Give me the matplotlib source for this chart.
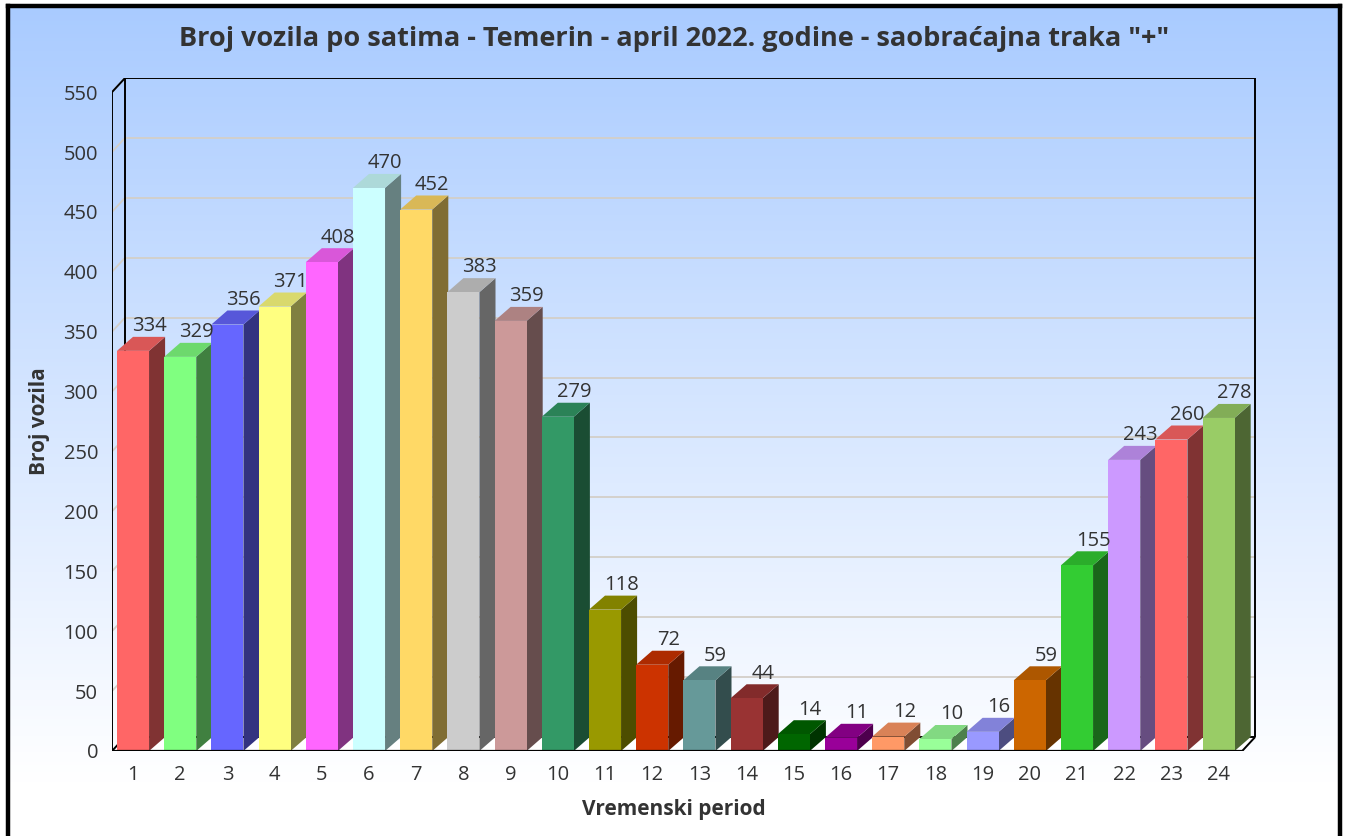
import numpy as np
import matplotlib
matplotlib.use("Agg")
import matplotlib.pyplot as plt
from matplotlib.patches import Polygon
from matplotlib.colors import to_rgb

plt.rcParams['font.family'] = ['Open Sans', 'DejaVu Sans']

# data
hours = list(range(1, 25))
counts = [334, 329, 356, 371, 408, 470, 452, 383, 359, 279, 118, 72,
          59, 44, 14, 11, 12, 10, 16, 59, 155, 243, 260, 278]
colors = ['#FF6666', '#80FF80', '#6666FF', '#FFFF80', '#FF66FF', '#CCFFFF',
          '#FFD966', '#CCCCCC', '#CC9999', '#339966', '#999900', '#CC3300',
          '#669999', '#993333', '#006600', '#990099', '#FF9966', '#99FF99',
          '#9999FF', '#CC6600', '#33CC33', '#CC99FF', '#FF6666', '#99CC66']
yticks = list(range(0, 551, 50))

title = 'Broj vozila po satima - Temerin - april 2022. godine - saobraćajna traka "+"'
txt = '#333333'

W, H = 1348, 836
fig = plt.figure(figsize=(W / 100, H / 100), dpi=100)

# background gradient + frame
bg = fig.add_axes([8 / W, -0.01, (1340 - 8) / W, (836 - 6) / H + 0.01], zorder=0)
grad = np.clip(np.linspace(0, 1.08, 256), 0, 1)[:, None]
top = np.array(to_rgb('#A9CBFF'))
bot = np.array([1.0, 1.0, 1.0])
img = top[None, None, :] * (1 - grad[..., None]) + bot[None, None, :] * grad[..., None]
bg.imshow(img, aspect='auto', extent=[0, 1, 0, 1], origin='upper')
bg.set_xticks([])
bg.set_yticks([])
for s in ['left', 'right', 'top']:
    bg.spines[s].set_linewidth(3.2)
    bg.spines[s].set_color('black')
bg.spines['bottom'].set_visible(False)

# main chart axes (front plane)
ax = fig.add_axes([112 / W, 1 - 751 / H, (1256 - 112) / W, (751 - 78) / H], zorder=1)
ax.patch.set_visible(False)
x0, x1 = 0.555, 0.555 + 1144 / 47.2
ax.set_xlim(x0, x1)
ax.set_ylim(0, 673 / 1.198)
wdx, wdy = 0.275, 11.7     # wall depth
bdx, bdy = 0.34, 11.7      # bar depth
bw = 0.68
xf = 24.50                 # front right edge

# floor
ax.add_patch(Polygon([(x0, 0), (xf, 0), (xf + wdx, wdy), (x0 + wdx, wdy)],
                     closed=True, facecolor='white', edgecolor='none', zorder=1))
# grid lines
for v in yticks[1:]:
    ax.plot([x0 + wdx, xf + wdx], [v + wdy, v + wdy], color='#D3CFC8', lw=1.3, zorder=1)
    ax.plot([x0, x0 + wdx], [v, v + wdy], color='#D3CFC8', lw=1.3, zorder=1)
# frame lines
fk = dict(color='black', lw=1.4, zorder=2, solid_capstyle='butt')
ax.plot([x0 + wdx, x0 + wdx], [wdy, 550 + wdy], **fk)
ax.plot([x0 + wdx, xf + wdx], [wdy, wdy], **fk)
ax.plot([x0 + wdx, xf + wdx], [550 + wdy, 550 + wdy], **fk)
ax.plot([xf + wdx, xf + wdx], [wdy, 550 + wdy], **fk)
ax.plot([x0, x0 + wdx], [550, 550 + wdy], **fk)
ax.plot([x0, x0 + wdx], [0, wdy], **fk)
ax.plot([xf, xf + wdx], [0, wdy], **fk)
ax.plot([x0, x0], [0, 550], color='black', lw=1.4, zorder=50)
ax.plot([x0, xf], [0, 0], color='black', lw=1.6, zorder=50)

# bars
for i, (h, v, c) in enumerate(zip(hours, counts, colors)):
    rgb = np.array(to_rgb(c))
    z = 10 + i
    l, r = h - bw / 2, h + bw / 2
    ax.add_patch(Polygon([(r, 0), (r + bdx, bdy), (r + bdx, v + bdy), (r, v)],
                         closed=True, facecolor=rgb * 0.5, edgecolor='none', zorder=z))
    ax.add_patch(Polygon([(l, v), (r, v), (r + bdx, v + bdy), (l + bdx, v + bdy)],
                         closed=True, facecolor=rgb * 0.85, edgecolor='none', zorder=z))
    ax.bar(h, v, width=bw, color=c, zorder=z + 0.5, linewidth=0)
    ax.annotate(str(v), (h + bdx, v + bdy), xytext=(0, 0.5), textcoords='offset points',
                ha='center', va='bottom', fontsize=14.5, color=txt, zorder=60)

ax.set_xticks(hours)
ax.set_xticklabels([str(h) for h in hours])
ax.set_yticks(yticks)
ax.tick_params(length=0, labelsize=14.5, labelcolor=txt)
ax.tick_params(axis='y', pad=10)
ax.tick_params(axis='x', pad=10)
for s in ax.spines.values():
    s.set_visible(False)

fig.text(674 / W, 1 - 39 / H, title, ha='center', va='center',
         fontsize=19.5, fontweight='bold', color=txt)
fig.text(674 / W, 1 - 809 / H, 'Vremenski period', ha='center', va='center',
         fontsize=15, fontweight='bold', color=txt)
fig.text(39 / W, 1 - 421 / H, 'Broj vozila', ha='center', va='center', rotation=90,
         fontsize=15, fontweight='bold', color=txt)

fig.savefig('out.png', dpi=100)
